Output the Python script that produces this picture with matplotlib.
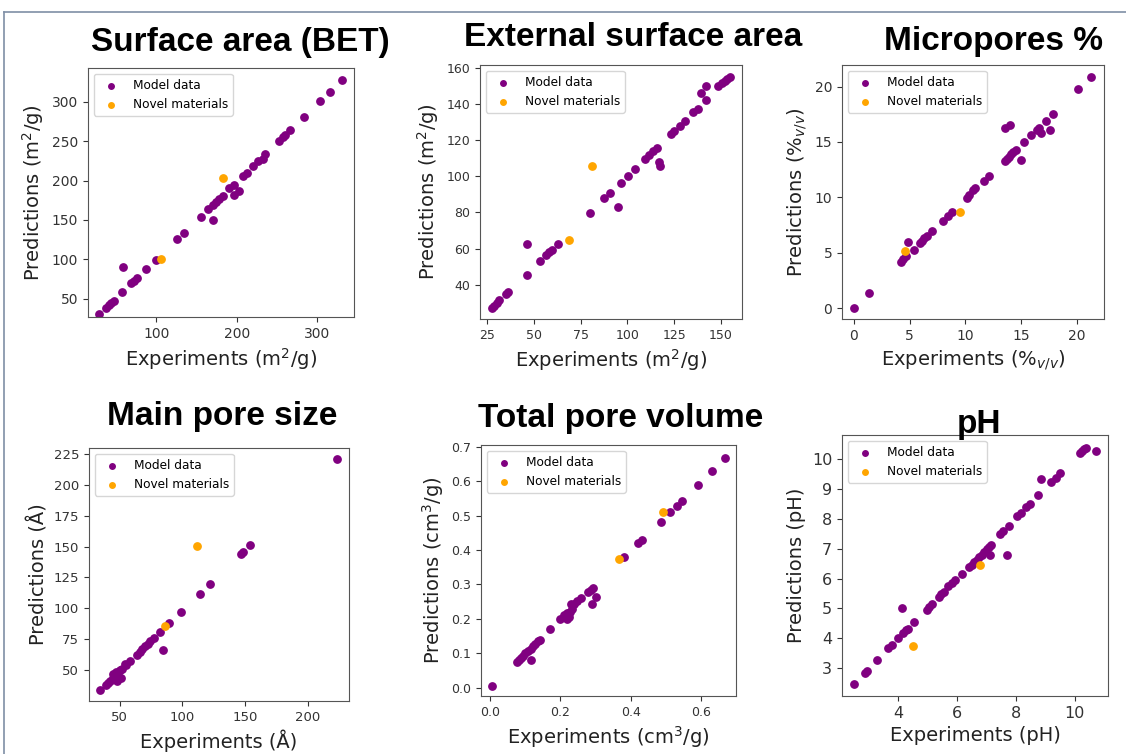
import numpy as np
import matplotlib
matplotlib.use("Agg")
import matplotlib.pyplot as plt
from matplotlib.lines import Line2D

# ---- data ----
# Surface area (BET)
bet_exp = [29, 37.5, 40.8, 43.8, 46.7, 57, 58.3, 68.8, 72, 75.8, 87.5, 100, 125.8, 134,
           155, 163.8, 170.8, 170, 174, 178, 182.5, 190.8, 195.8, 196.7, 202.5, 207, 212,
           220, 226, 233, 234.6, 253, 257, 260, 265.8, 283, 303, 315.4, 331]
bet_pred = [31, 38.6, 41.5, 45, 47.5, 58.5, 90.7, 69.5, 73, 76.7, 87.7, 99, 125.4, 133.5,
            153.8, 163.6, 149.6, 168.6, 173, 177, 181, 191, 194.9, 182, 186.4, 205.5, 210,
            219, 224.6, 227.5, 233.5, 251, 255.5, 258, 264, 280.5, 300.8, 313, 328.4]
bet_new_exp = [105.8, 183.3]
bet_new_pred = [100.8, 203.4]

# External surface area
ext_exp = [27.3, 28.6, 30, 31.4, 35, 36.2, 46, 46.3, 53, 56.6, 58, 59.6, 63, 79.7, 87.7,
           90.7, 94.8, 96.6, 100.2, 103.9, 109.6, 111.7, 113.8, 115.8, 116.7, 117.4, 123.3,
           125, 128.2, 130.9, 135.3, 137.5, 139.6, 141.9, 142.3, 148.7, 150.5, 152, 153.5, 154.9]
ext_pred = [27.1, 28.4, 29.9, 31.7, 34.8, 35.8, 45.2, 62.7, 52.9, 56.6, 58, 59.3, 62.7, 79.8,
            87.9, 90.6, 83.1, 96.5, 99.9, 103.9, 109.6, 111.5, 113.7, 115.5, 108.1, 105.6,
            123.4, 125.1, 128, 130.8, 135.6, 137.4, 145.9, 149.9, 142.2, 149.9, 151.5, 152.5,
            154, 155.1]
ext_new_exp = [68.7, 80.8]
ext_new_pred = [64.5, 105.4]

# Micropores %
mic_exp = [0, 1.4, 4.26, 4.46, 4.7, 4.9, 5.36, 5.9, 6.13, 6.34, 6.55, 7.05, 8.04, 8.48, 8.78,
           10.1, 10.33, 10.7, 10.9, 11.67, 12.14, 13.5, 13.7, 13.9, 14.08, 14.3, 14.5, 13.5,
           13.99, 14.97, 15.27, 15.9, 16.37, 16.6, 16.76, 17.2, 17.6, 17.86, 20.1, 21.2]
mic_pred = [0, 1.35, 4.2, 4.42, 4.66, 5.98, 5.26, 5.86, 6.08, 6.29, 6.47, 6.98, 7.88, 8.33,
            8.63, 9.98, 10.17, 10.68, 10.83, 11.46, 11.97, 13.3, 13.47, 13.68, 13.9, 14.1,
            14.3, 16.27, 16.5, 13.35, 14.98, 15.64, 16.1, 16.3, 15.8, 16.9, 16.1, 17.5, 19.8,
            20.84]
mic_new_exp = [4.64, 9.5]
mic_new_pred = [5.17, 8.63]

# Main pore size
pore_exp = [34.6, 38.9, 40.7, 42.6, 44.7, 44.7, 47.3, 46.8, 47.9, 49.5, 51.3, 50, 52.1, 54,
            55.3, 58, 64, 66, 68, 70.4, 72.6, 74.4, 77, 82.4, 84.5, 89.3, 98.6, 113.7, 122.2,
            146.4, 148.2, 153.5, 223]
pore_pred = [33.8, 37.9, 40, 41.7, 43.8, 47, 45.9, 48.7, 41.1, 44.9, 43.8, 50, 51.3, 55.1,
             54, 57.3, 62.7, 64.8, 67, 69.7, 71.5, 73.7, 76.1, 81, 66.2, 88, 96.8, 111.9, 120,
             144.2, 145.9, 151, 220.4]
pore_new_exp = [85.8, 111.9]
pore_new_pred = [85.8, 150.2]

# Total pore volume
vol_exp = [0.007, 0.076, 0.082, 0.088, 0.095, 0.101, 0.108, 0.116, 0.123, 0.129, 0.118, 0.136,
           0.142, 0.171, 0.2, 0.211, 0.218, 0.226, 0.227, 0.22, 0.232, 0.23, 0.239, 0.248,
           0.26, 0.28, 0.286, 0.292, 0.291, 0.301, 0.381, 0.422, 0.433, 0.486, 0.512, 0.533,
           0.545, 0.593, 0.633, 0.668]
vol_pred = [0.005, 0.075, 0.081, 0.086, 0.093, 0.1, 0.107, 0.113, 0.121, 0.128, 0.08, 0.135,
            0.14, 0.17, 0.199, 0.21, 0.217, 0.206, 0.22, 0.2, 0.23, 0.242, 0.242, 0.252,
            0.261, 0.278, 0.285, 0.291, 0.244, 0.264, 0.379, 0.419, 0.429, 0.482, 0.509, 0.529,
            0.542, 0.59, 0.63, 0.668]
vol_new_exp = [0.367, 0.493]
vol_new_pred = [0.373, 0.511]

# pH
ph_exp = [2.5, 2.87, 2.95, 3.29, 3.68, 3.8, 4.02, 4.19, 4.28, 4.36, 4.56, 4.14, 4.98, 5.06,
          5.15, 5.38, 5.47, 5.57, 5.71, 5.83, 5.94, 6.17, 6.42, 6.5, 6.58, 6.67, 6.75, 6.84,
          6.92, 7.01, 7.09, 7.16, 7.12, 7.69, 7.46, 7.57, 7.77, 8.05, 8.17, 8.34, 8.48, 8.76,
          8.85, 9.21, 9.35, 9.49, 10.17, 10.25, 10.3, 10.37, 10.73]
ph_pred = [2.45, 2.84, 2.9, 3.26, 3.67, 3.76, 3.99, 4.19, 4.27, 4.32, 4.55, 5.03, 4.96, 5.05,
           5.14, 5.39, 5.47, 5.55, 5.74, 5.86, 5.97, 6.15, 6.39, 6.47, 6.55, 6.64, 6.72, 6.8,
           6.89, 6.98, 7.06, 7.14, 6.8, 6.79, 7.49, 7.6, 7.78, 8.1, 8.21, 8.39, 8.5, 8.8, 9.36,
           9.25, 9.38, 9.53, 10.22, 10.29, 10.35, 10.4, 10.28]
ph_new_exp = [4.53, 6.79]
ph_new_pred = [3.74, 6.47]

titles = ["Surface area (BET)", "External surface area", "Micropores %",
          "Main pore size", "Total pore volume", "pH"]
xlabels = ["Experiments (m$^2$/g)", "Experiments (m$^2$/g)", "Experiments (%$_{v/v}$)",
           "Experiments (Å)", "Experiments (cm$^3$/g)", "Experiments (pH)"]
ylabels = ["Predictions (m$^2$/g)", "Predictions (m$^2$/g)", "Predictions (%$_{v/v}$)",
           "Predictions (Å)", "Predictions (cm$^3$/g)", "Predictions (pH)"]
xticks = [[100, 200, 300], [25, 50, 75, 100, 125, 150], [0, 5, 10, 15, 20],
          [50, 100, 150, 200], [0.0, 0.2, 0.4, 0.6], [4, 6, 8, 10]]
yticks = [[50, 100, 150, 200, 250, 300], [40, 60, 80, 100, 120, 140, 160], [0, 5, 10, 15, 20],
          [50, 75, 100, 125, 150, 175, 200, 225], [0.0, 0.1, 0.2, 0.3, 0.4, 0.5, 0.6, 0.7],
          [3, 4, 5, 6, 7, 8, 9, 10]]

panels = [(bet_exp, bet_pred, bet_new_exp, bet_new_pred),
          (ext_exp, ext_pred, ext_new_exp, ext_new_pred),
          (mic_exp, mic_pred, mic_new_exp, mic_new_pred),
          (pore_exp, pore_pred, pore_new_exp, pore_new_pred),
          (vol_exp, vol_pred, vol_new_exp, vol_new_pred),
          (ph_exp, ph_pred, ph_new_exp, ph_new_pred)]

# ---- layout (pixels in a 1126x754 canvas) ----
W, H = 1126, 754
# left, top, right, bottom of each axes box
boxes = [(88, 68, 354, 317), (480, 65, 742, 319), (842, 65, 1104, 319),
         (89, 448, 349, 701), (481, 445, 736, 696), (842, 435, 1108, 696)]
xlims = [(14.8, 345.7), (21.1, 161.3), (-1.04, 22.4), (25.6, 232.6), (-0.0256, 0.70), (2.105, 11.13)]
ylims = [(26.6, 343.2), (21.1, 161.5), (-0.99, 21.95), (25.2, 229.6), (-0.024, 0.705), (2.06, 10.82)]
tick_fs = [10, 9, 10, 9.5, 9, 11.5]
# title centre x, baseline y
title_pos = [(240, 51), (633, 46), (994, 50), (222, 425), (621, 427), (979, 433)]

fig = plt.figure(figsize=(W / 100, H / 100), dpi=100)

for i, (ex, pr, nex, npr) in enumerate(panels):
    l, t, r, b = boxes[i]
    ax = fig.add_axes([l / W, 1 - b / H, (r - l) / W, (b - t) / H])
    ax.scatter(ex, pr, s=28, color="purple", label="Model data", zorder=2)
    ax.scatter(nex, npr, s=28, color="orange", label="Novel materials", zorder=3)
    ax.set_xlim(*xlims[i])
    ax.set_ylim(*ylims[i])
    ax.set_xticks(xticks[i])
    ax.set_yticks(yticks[i])
    ax.tick_params(labelsize=tick_fs[i], colors="#333333")
    for sp in ax.spines.values():
        sp.set_color("#555555")
    ax.set_xlabel(xlabels[i], fontsize=14, color="#222222")
    ax.set_ylabel(ylabels[i], fontsize=14, color="#222222")
    ax.legend(loc="upper left", fontsize=8.7, markerscale=0.75)
    fig.text(title_pos[i][0] / W, 1 - title_pos[i][1] / H, titles[i],
             ha="center", va="baseline", fontsize=24, fontweight="bold",
             family="Liberation Sans")

# thin frame of the slide
fig.add_artist(Line2D([4 / W, 1], [1 - 12 / H, 1 - 12 / H], color="#7f8fa6", lw=1.2))
fig.add_artist(Line2D([4 / W, 4 / W], [0, 1 - 12 / H], color="#7f8fa6", lw=1.2))

fig.savefig("out.png", dpi=100)
